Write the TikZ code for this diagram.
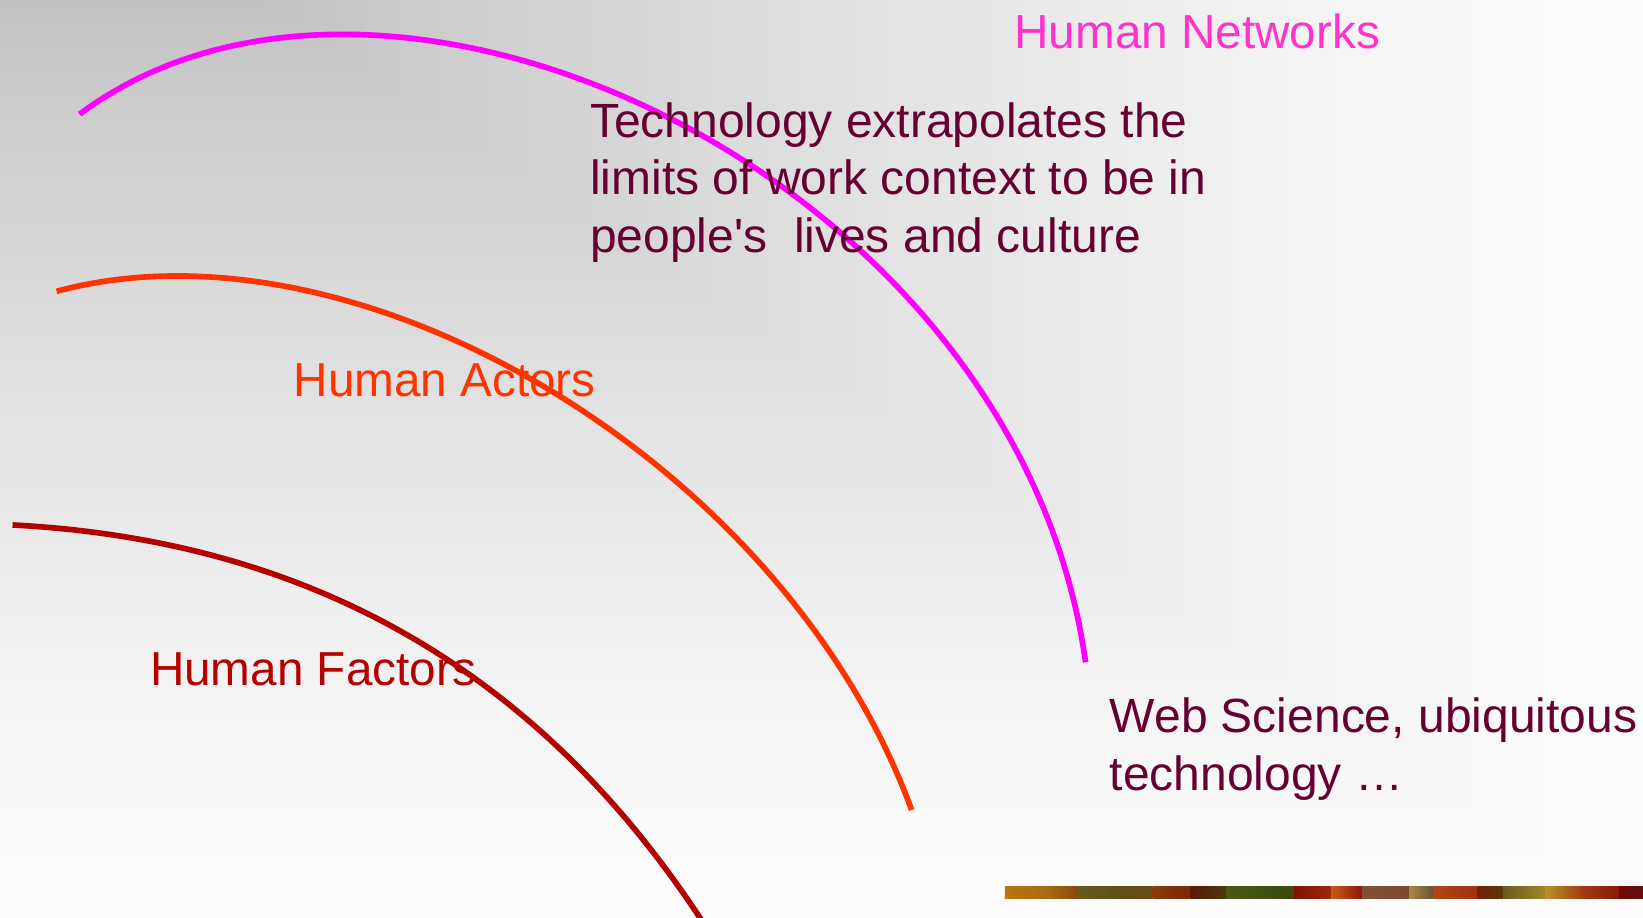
\documentclass[tikz,border=0pt]{standalone}
\usepackage{fontspec}
\setmainfont{Liberation Sans}
\definecolor{cmag}{HTML}{FF00FF}
\definecolor{cnet}{HTML}{FF33CC}
\definecolor{cact}{HTML}{FF3300}
\definecolor{cfac}{HTML}{B50000}
\definecolor{cbody}{HTML}{660033}
\definecolor{b1}{HTML}{B8780C}\definecolor{b2}{HTML}{A86A10}
\definecolor{b3}{HTML}{8A4A10}\definecolor{b4}{HTML}{6A5A1C}
\definecolor{b5}{HTML}{5C5218}\definecolor{b6}{HTML}{6A4A14}
\definecolor{b7}{HTML}{8A3A0A}\definecolor{b8}{HTML}{7A2A08}
\definecolor{b9}{HTML}{5A1808}\definecolor{b10}{HTML}{4A3A0C}
\definecolor{b11}{HTML}{4A5A14}\definecolor{b12}{HTML}{3A4A10}
\definecolor{b13}{HTML}{801008}\definecolor{b14}{HTML}{A02808}
\definecolor{b15}{HTML}{C85A18}\definecolor{b16}{HTML}{901808}
\definecolor{b17}{HTML}{805038}\definecolor{b18}{HTML}{7A4A30}
\definecolor{b19}{HTML}{A8884A}\definecolor{b20}{HTML}{6A5030}
\definecolor{b21}{HTML}{B04810}\definecolor{b22}{HTML}{A03010}
\definecolor{b23}{HTML}{702008}\definecolor{b24}{HTML}{5A3A10}
\definecolor{b25}{HTML}{6A5A20}\definecolor{b26}{HTML}{A08828}
\definecolor{b27}{HTML}{B8902A}\definecolor{b28}{HTML}{A04010}
\definecolor{b29}{HTML}{A03A14}\definecolor{b30}{HTML}{8A1A0A}
\definecolor{b31}{HTML}{700808}\definecolor{b32}{HTML}{601010}
\begin{document}
\begin{tikzpicture}[x=1pt,y=-1pt,
  lbl/.style={anchor=base west,inner sep=0pt,font=\fontsize{45.5}{55}\selectfont},
  body/.style={anchor=base west,inner sep=0pt,text=cbody,font=\fontsize{45.8}{55}\selectfont},
  arcline/.style={line width=5.4pt}]
\useasboundingbox (0,0) rectangle (1568,876);
% background: rectangular gradient from the top-left
\foreach \i in {80,79,...,0}{
  \pgfmathsetmacro\t{\i/80}
  \pgfmathtruncatemacro\v{195+58*(1-(1.0001-\t)^1.3)}
  \definecolor{bgc}{RGB}{\v,\v,\v}
  \fill[bgc] (0,0) rectangle ({250+\t*1320},{\t*878});
}
% bottom decorative strip
\foreach \xa/\xb/\ca/\cb in {959/1000/b1/b2,1000/1028/b2/b3,1028/1060/b4/b5,1060/1100/b5/b6,
  1100/1136/b7/b8,1136/1170/b9/b10,1170/1235/b11/b12,1235/1270/b13/b14,1270/1300/b15/b16,
  1300/1345/b17/b18,1345/1368/b19/b20,1368/1410/b21/b22,1410/1435/b23/b24,1435/1475/b25/b26,
  1475/1510/b27/b28,1510/1545/b29/b30,1545/1569/b31/b32}{
  \shade[left color=\ca,right color=\cb] (\xa,846) rectangle (\xb,857);
}
% the three arcs
\coordinate (m0) at (76,109);  \coordinate (m1) at (1036,632);
\coordinate (o0) at (54,278);  \coordinate (o1) at (870,773);
\coordinate (r0) at (12,501);  \coordinate (r1) at (672,882);
\begin{scope}
\clip (0,0) rectangle (1568,876);
\draw[arcline,cmag] (m0) .. controls (369,-110) and (971,167) .. (m1);
\draw[arcline,cact] (o0) .. controls (344,200) and (750,444) .. (o1);
\draw[arcline,cfac] (r0) .. controls (262,514) and (498,614) .. (r1);
\end{scope}
% texts
\node[lbl,text=cnet] (hn) at (968,46) {Human Networks};
\node[body] (t1) at (563,131) {Technology extrapolates the};
\node[body] (t2) at (563,186) {limits of work context to be in};
\node[body] (t3) at (563,241) {people\textquotesingle s\ \ lives and culture};
\node[lbl,text=cact] (ha) at (280,378) {Human Actors};
\node[lbl,text=cfac] (hf) at (143,654) {Human Factors};
\node[body] (ws1) at (1059,699) {Web Science, ubiquitous};
\node[body] (ws2) at (1059,754) {technology …};
\end{tikzpicture}
\end{document}
